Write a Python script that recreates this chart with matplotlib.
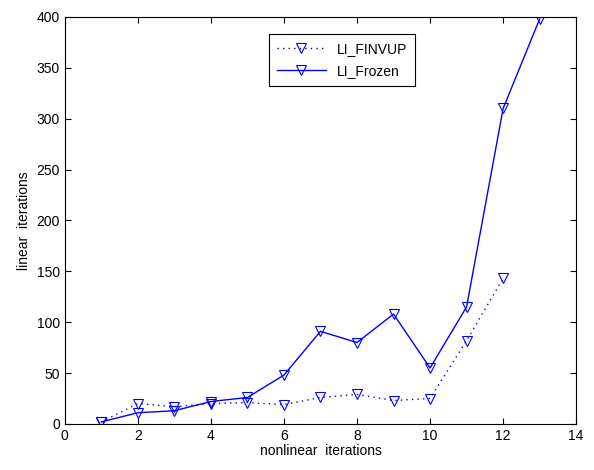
import numpy as np
import matplotlib.pyplot as plt

plt.rcParams['font.family'] = ['Liberation Sans', 'DejaVu Sans']
plt.rcParams['font.size'] = 10

# nonlinear iteration index
it_finvup = [1, 2, 3, 4, 5, 6, 7, 8, 9, 10, 11, 12]
it_frozen = [1, 2, 3, 4, 5, 6, 7, 8, 9, 10, 11, 12, 13]

# linear iterations per nonlinear iteration
li_finvup = [2, 20, 17, 20, 21, 19, 26, 29, 23, 25, 82, 143]
li_frozen = [2, 11, 13, 22, 26, 48, 91, 80, 108, 55, 115, 310, 398]

fig = plt.figure(figsize=(5.94, 4.70), dpi=100)
ax = fig.add_axes([0.109, 0.098, 0.861, 0.866])

ax.plot(it_finvup, li_finvup, linestyle=(0, (1, 3)), color='b', lw=1, marker='v',
        markersize=7, markerfacecolor='none', markeredgecolor='b',
        markeredgewidth=0.8, label='LI_FINVUP')
ax.plot(it_frozen, li_frozen, '-', color='b', lw=1, marker='v',
        markersize=7, markerfacecolor='none', markeredgecolor='b',
        markeredgewidth=0.8, label='LI_Frozen')

ax.set_xlim([0, 14])
ax.set_ylim([0, 400])
ax.set_xticks(np.arange(0, 15, 2))
ax.set_yticks(np.arange(0, 401, 50))
ax.tick_params(direction='in', top=True, right=True, length=4)
ax.set_xlabel('nonlinear  iterations', labelpad=1)
ax.set_ylabel('linear  iterations')

leg = ax.legend(loc='upper left', bbox_to_anchor=(0.40, 0.958),
                borderaxespad=0, fancybox=False, edgecolor='k',
                framealpha=1, handlelength=3.5, fontsize=10,
                labelspacing=0.6, borderpad=0.55)
leg.get_frame().set_linewidth(0.8)

plt.savefig('out.png', dpi=100)
